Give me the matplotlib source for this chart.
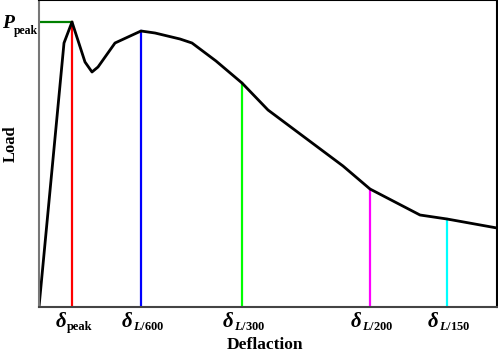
import numpy as np
import matplotlib.pyplot as plt

plt.rcParams['font.family'] = 'Liberation Serif'
plt.rcParams['font.weight'] = 'bold'
plt.rcParams['mathtext.fontset'] = 'custom'
plt.rcParams['mathtext.rm'] = 'Liberation Serif:bold'
plt.rcParams['mathtext.it'] = 'Liberation Serif:italic:bold'
plt.rcParams['mathtext.bf'] = 'Liberation Serif:bold'

# load-deflection curve (arbitrary units)
deflection = [0, 25, 33, 46, 53, 59, 76, 102, 116, 141, 153, 177, 203, 229, 304, 331, 381, 408, 458]
load = [0, 264, 285, 245, 235, 240, 264, 276, 274, 268, 264, 246, 224, 197, 141, 118, 92, 88, 79]

# marked points
mark_x = [33, 102, 203, 331, 408]
mark_y = [285, 276, 224, 118, 88]
mark_colors = ['red', 'blue', '#00ff00', 'magenta', 'cyan']
mark_subs = ['peak', r'$L\mathrm{/600}$', r'$L\mathrm{/300}$', r'$L\mathrm{/200}$', r'$L\mathrm{/150}$']
p_peak = 285

fig = plt.figure(figsize=(4.98, 3.53), dpi=100)
ax = fig.add_axes([39 / 498, 46 / 353, 458 / 498, 307 / 353])

for x, y, c in zip(mark_x, mark_y, mark_colors):
    ax.plot([x, x], [0, y], color=c, lw=1.6)
ax.plot([0, mark_x[0]], [p_peak, p_peak], color='green', lw=1.6)
ax.plot(deflection, load, color='black', lw=2)

ax.set_xlim(0, 458)
ax.set_ylim(0, 307)
ax.set_xticks([])
ax.set_yticks([])

ax.spines['left'].set_color('#777777')
ax.spines['bottom'].set_color('#444444')
for s in ax.spines.values():
    s.set_linewidth(1.5)

# delta labels under the axis, subscript drawn as a second text
fig.canvas.draw()
r = fig.canvas.get_renderer()
for x, sub in zip(mark_x, mark_subs):
    d = ax.annotate('δ', xy=(x, 0), xycoords=('data', 'axes fraction'), xytext=(0, -20),
                    textcoords='offset pixels', ha='right', va='baseline', fontsize=15,
                    fontstyle='italic', fontweight='bold', annotation_clip=False)
    s = ax.annotate(sub, xy=(x, 0), xycoords=('data', 'axes fraction'), xytext=(0, -23),
                    textcoords='offset pixels', ha='left', va='baseline', fontsize=9,
                    fontweight='bold', annotation_clip=False)
    wd = d.get_window_extent(r).width
    ws = s.get_window_extent(r).width
    shift = (wd - ws) / 2 + 2
    d.xyann = (shift, -20)
    s.xyann = (shift, -23)

ax.annotate('P', xy=(0, p_peak), xycoords=('axes fraction', 'data'), xytext=(-25, -6),
            textcoords='offset pixels', ha='right', va='baseline', fontsize=14,
            fontstyle='italic', fontweight='bold', annotation_clip=False)
ax.annotate('peak', xy=(0, p_peak), xycoords=('axes fraction', 'data'), xytext=(-25, -12),
            textcoords='offset pixels', ha='left', va='baseline', fontsize=8.5,
            fontweight='bold', annotation_clip=False)

ax.set_ylabel('Load', fontsize=12, fontweight='bold')
ax.yaxis.set_label_coords(-0.045, 0.531)
fig.text(265 / 498, 4 / 353, 'Deflaction', ha='center', va='baseline', fontsize=12.5, fontweight='bold')

fig.savefig('out.png', dpi=100)
